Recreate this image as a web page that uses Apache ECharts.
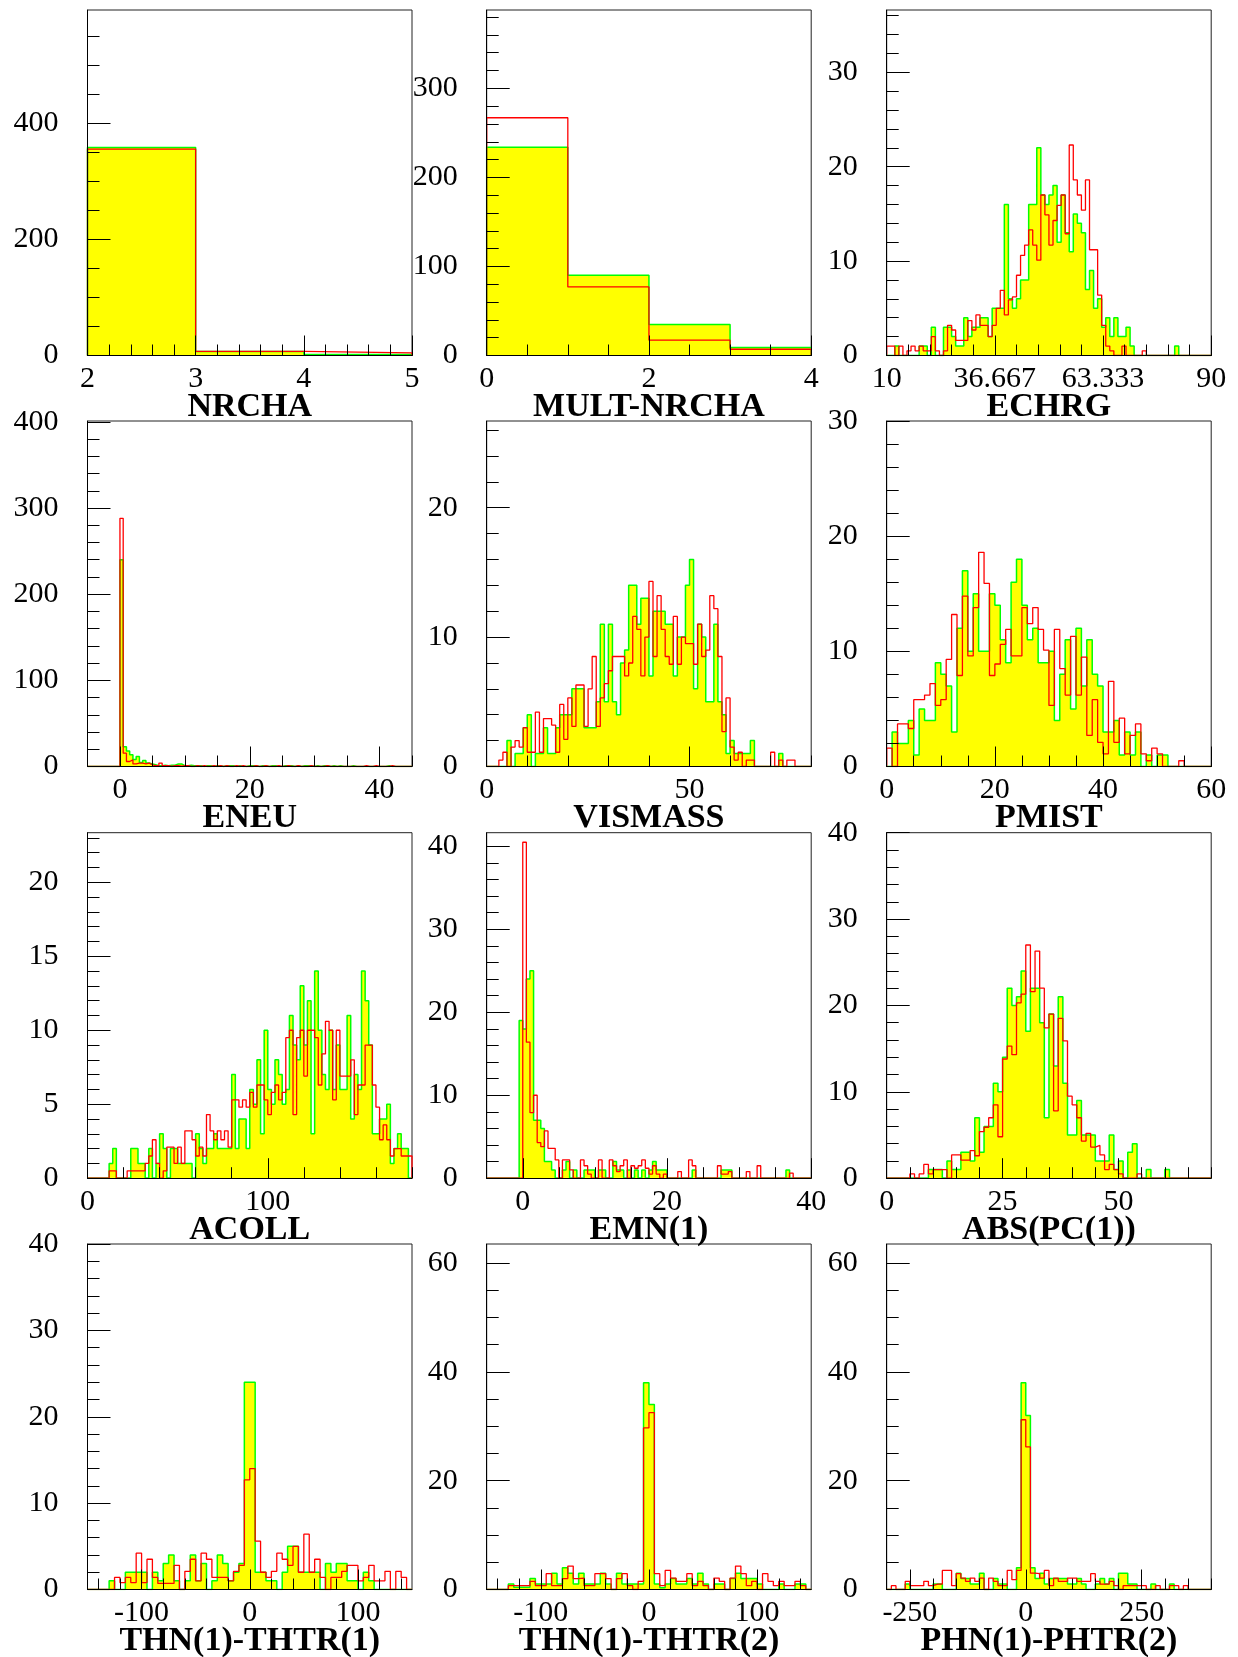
<!DOCTYPE html>
<html>
<head>
<meta charset="utf-8">
<script src="https://cdn.jsdelivr.net/npm/echarts@6/dist/echarts.min.js"></script>
<style>
html,body{margin:0;padding:0;background:#fff;}
#chart{width:1238px;height:1657px;}
</style>
</head>
<body>
<div id="chart"></div>
<script>
// ---------------- DATA (bin contents) ----------------
const titles = ['NRCHA','MULT-NRCHA','ECHRG','ENEU','VISMASS','PMIST','ACOLL','EMN(1)','ABS(PC(1))','THN(1)-THTR(1)','THN(1)-THTR(2)','PHN(1)-PHTR(2)'];

const nrchaFill = [359, 7, 1.7];
const nrchaLine = [356, 7, 4.6];

const multFill = [234, 90, 34.7, 9];
const multLine = [267, 77, 17.2, 7];

const echrgFill = [0,0,1,0,0,0,0,0,1,1, 0,3,0,0,3,3,2,1,1,4, 2,3,3,4,4,2,5,5,5,16, 6,5,6,8,8,16,16,22,17,16, 17,18,12,17,13,11,15,14,13,7, 9,5,6,3,4,2,4,2,2,3, 1,0,0,0,0,0,0,0,0,0, 0,1,0,0,0,0,0,0,0,0];
const echrgLine = [1,1,0,1,0,0.5,1,0.5,1,0.5, 0.5,2,0.5,0,0.5,3.2,2.7,1.6,1.6,1.6, 3.7,2.7,4.3,3.2,3.2,2,3.2,5,6.9,4.3, 5.9,6.2,8.5,10.6,11.7,13.3,11.7,10.1,17,14.9, 11.7,14.3,15.9,17,12.9,22.3,18.6,17,15.4,18.6, 11.2,11.2,6.4,3.2,1,0.5,0,0,1,0, 0,0,0,0.5,0,0,0,0,0,0, 0,0,0,0,0,0,0,0,0,0];

const eneuFill = [0,0,0,0,0,0,0,0,0,0, 240,23,18,13.5,8,11.6,4.6,7,4,3, 2,1,1,1.5,1,1.5,1.5,3,3,1, 1,1.5,1,1,1,0,1,1,0,1, 1,0,1,1,1,0,1,0,0,1, 1,1,0,1,1,0,1,1,0,0, 1,1,1,0,1,0,1,1,1,0, 1,0,1,1,0,1,0,1,0,0, 0,1,0,0,0,0,0,0,0,0, 0,0,1,0,0,0,0,0,0,0];
const eneuLine = [0,0,0,0,0,0,0,0,0,0, 288,15.5,5.8,7.7,3,3.9,3.9,3,3.9,2, 1,1,4,1,1,0,1,1,0.5,1, 1,0,0,1,0,1,0,0,1,0, 1,0,1,0,0,1,0,1,0,0, 0,1,0,0,1,0,0,0,1,0, 0,1,0,0,1,0,0,0,1,0, 0,0,0,1,0,0,0,0,0,0, 0,0,0,0,0,1,0,0,1,0, 0,0,0,1,0,0,0,0,0,0];

const vismassFill = [0,0,0,0,0,2,0,1,1,3, 4,0,1,1,3,1,1,3,4,4, 4,6,6,6,3,3,3,5,11,5, 11,5,4,8,9,14,14,11,13,13, 7,12,12,12,11,11,7,10,10,14, 16,6,11,10,5,5,11,5,4,1, 2,1,1,1,1,2,0,0,0,0, 0,0,1,0,0,0,0,0,0,0];
const vismassLine = [0,0,0,0.5,1.1,0,1.5,2,1.5,3, 1.1,1.1,4.2,1.1,3.7,3.7,3.2,1.1,4.8,2.1, 5.3,3.1,6.3,6.3,3.1,6,8.5,3.1,5.3,6.4, 7.4,8.5,8.5,8.5,7,8,11.6,10.6,7,10, 14.3,8.5,13.2,10.6,8.5,7.9,11.6,7.9,10,9.5, 9.5,7.9,11,8.5,9,13.2,12.2,8.5,2.7,5.3, 1.5,0.5,1.1,0,0.5,0.5,0,0,0,0, 1.1,0,0.5,0,0.5,0.5,0,0,0,0];

const pmistFill = [0,3,2,2,4,1,5,4,4,9, 8,7,3,12,17,10,15,10,10,15, 14,11,9,16,18,14,11,12,9,9, 10,4,8,11,5,12,7,11,8,7, 3,3,4,1,3,1,3,0,1,0, 1,1,0,0,0,0,0,0,0,0];
const pmistLine = [1.6,0,3.7,3.7,3.3,5.8,5.8,6.2,7.2,5.3, 5.8,9.3,13.2,7.9,14.8,9.6,13.8,18.6,15.9,7.9, 8.9,10.6,11.9,9.6,9.6,13.8,12.4,13.8,11.9,10.1, 5.3,11.9,8.5,6.2,11.3,6.2,9.5,2.7,5.8,2.1, 1.1,7.4,2.1,4.2,1.1,2.7,3.7,1.1,0.5,1.6, 1.1,0,0,0,0.5,0,0,0,0,0];

const acollFill = [0,0,0,0,0,0,1,2,0,0, 0,0,2,2,1,1,0,2,0,1, 3,2,0,2,2,1,1,1,1,0, 3,2,1,2,2,3,2,2,2,2, 7,2,4,4,2,6,5,8,3,10, 6,5,8,7,5,6,11,9,8,13, 9,12,3,14,10,7,6,10,6,9, 6,6,11,4,7,6,14,12,9,3, 3,4,4,5,1,2,3,2,2,0];
const acollLine = [0,0,0,0,0,0,0.5,0.5,0,0, 0,0.5,0.5,0.5,0.5,0.5,1,1.5,2.6,1, 0,0.5,2.1,2.1,1,2.1,1,3.2,3.2,2.6, 1.5,2.1,1.5,4.3,3.2,2.6,3.2,2.6,3.2,2.1, 5.3,5.3,4.8,5.3,4.8,5.8,4.8,6.3,6.3,5.3, 4.3,5.8,6.3,5.3,5.8,9.5,10,4.3,9.5,10, 6.9,10,10,9.5,6.3,8.4,10.6,10,5.3,10, 6.9,6.9,6.9,8,4.3,6.3,6.3,9,9,6.3, 4.8,2.6,3.6,2.6,1.5,2,2,1.5,1.5,1.5];

const emnFill = [0,0,0,0,0,0,0,0,0,19, 18,24,25,7,7,6,2,2,1,0, 0,1,2,0,1,0,0,1,1,1, 0,1,1,0,0,2,1,1,0,1, 0,1,0,1,0,1,2,1,1,1, 0,0,0,0,0,0,0,1,0,0, 0,0,0,0,0,1,1,1,0,0, 0,0,0,0,0,0,0,0,0,0, 0,0,0,1,0,0,0,0,0,0];
const emnLine = [0,0,0,0,0,0,0,0,0,0, 40.5,16.4,7.9,10,4.3,3.8,5.7,3.6,3.6,2.2, 0,2.2,2.2,1,0,0,2.2,1.5,0.5,0, 0,2.2,0,0,2.2,1.5,0.8,1.5,2.2,0, 1.5,1.2,1.5,2.2,1.2,0.5,1.5,0.5,0,0.5, 0,0,0,0.8,0,0,2.2,1.5,0,0, 0,0,0,0,1.5,0.5,0.5,0.8,0,0, 0,0,0.8,0,0,1.5,0,0,0,0, 0,0,0,0,0.6,0,0,0,0,0];

const abspcFill = [0,0,0,0,0,0,0,0,0,1, 1,1,0,2,1,1,3,3,2,7, 3,6,6,11,10,14,22,20,21,24, 17,22,22,18,7,19,13,21,11,5, 5,9,5,5,5,2,2,2,5,1, 2,0,3,4,0,0,1,0,0,0, 1,0,0,0,0,0,0,0,0,0];
const abspcLine = [0,0,0,0,0,0.5,0,0.5,1.6,0.5, 1,1,1,0,2.7,2.7,2.1,2.1,3.2,2.6, 5.4,5.9,7,8.5,4.8,13.8,15.3,14.3,20.3,21.3, 27,21.6,26.3,22,17.4,19,7.8,18.5,15.9,9.5, 8.5,7,4.3,5.2,3.6,3.8,2.7,1,1.6,1, 0.5,0,0,0,0.5,0,0,0,0,0, 0,0,0,0,0,0,0,0,0,0];

const thn1Fill = [0,0,0,0,1,0,0,2,2,2, 2,0,2,1,3,4,1,0,1,4, 1,3,0,1,4,3,1,2,3,24, 24,2,2,1,1,0,2,5,5,2, 2,2,2,0,3,2,3,3,1,1, 0,2,1,0,0,0,0,0,0,0];
const thn1Line = [0,0,0,0,0,1.4,0.8,1.4,0.8,4.2, 0.8,3.5,1.4,0.7,0.7,0.7,2.8,0,2.1,3.5, 1,4.2,3.5,1.4,1.4,1.4,1,2.1,2.8,12.7, 14,5.6,2,1.4,2.1,4.2,3.5,2.8,5,2, 6.4,2,3.5,1.4,0,1.4,1.4,2.1,2.8,2.8, 1,1.4,2.8,1,1,2.1,0,2.1,1.4,0];

const thn2Fill = [0,0,0,0,1,0.4,0.4,0.4,2,1, 1,1,3,1,4,3,1,3,1,1, 1,3,1,0,3,1,1,1,1,38, 34,1,0.3,1,2,1,1,2,1,3, 1,0,1,1,0,2,3,2,2,2, 1,0,0,0,1,0,0,1,1,0];
const thn2Line = [0,0,0,0,0.7,0.7,0.7,0.7,1.5,0.7, 0.7,2.9,0.7,0.7,2,4.3,2,2.1,0.7,0.7, 2.9,2.9,2,0,2,2.9,0.7,0,1.5,29.7, 32.5,2.9,0.7,3.5,2.1,1.5,1.5,2.9,0.7,1.5, 0.7,0,2.1,1.5,0,2.1,4.3,2.9,0.7,1.5, 0,2.9,1.5,0.7,1.5,0.7,0.7,1.5,0.7,0];

const phnFill = [0,0,0,0,1,0,0,0,0,0, 1,1,0,0,0,3,2,2,1,1, 3,0,0,2,1,1,0,0,4,38, 32,4,2,3,1,2,2,2,2,1, 1,2,1,0,0,1,2,1,2,0, 3,3,1,1,0,0,0,1,0,0, 0,1,0,0,0,0,0,0,0,0];
const phnLine = [0,0.7,0,0,1.5,0.7,0.7,0.7,1.5,0.7, 1,1,3.5,3.5,0.7,2.9,2.1,1.5,2.1,1.5, 2.1,0,2.1,1.5,0.7,0.7,3.5,1.8,3.5,31.2, 26.2,3,2.9,2.1,3.5,0.7,2.1,1.5,1.5,2.1, 2.1,1.5,1.5,1.5,2.9,1.5,1,1,1.5,0.7, 0,0.7,0.7,0.7,0.7,0.7,0,0,0.7,0, 0,0.7,0.7,0,0.7,0,0,0,0,0];

// tick labels
const xLabelValues = [[2,3,4,5],[0,2,4],[10,36.667,63.333,90],[0,20,40],[0,50],[0,20,40,60],[0,100],[0,20,40],[0,25,50],[-100,0,100],[-100,0,100],[-250,0,250]];
const yLabelValues = [[0,200,400],[0,100,200,300],[0,10,20,30],[0,100,200,300,400],[0,10,20],[0,10,20,30],[0,5,10,15,20],[0,10,20,30,40],[0,10,20,30,40],[0,10,20,30,40],[0,20,40,60],[0,20,40,60]];

// axis ranges and binning
const xMins = [2,0,10,-5,0,0,0,-5,0,-150,-150,-300];
const xMaxs = [5,4,90,45,80,60,180,40,70,150,150,400];
const binWidths = [1,1,1,0.5,1,1,2,0.5,1,5,5,10];
const yMaxs = [596,388,36.6,401,26.7,30,23.35,41.65,40,40,63.5,63.5];

const fills = [nrchaFill,multFill,echrgFill,eneuFill,vismassFill,pmistFill,acollFill,emnFill,abspcFill,thn1Fill,thn2Fill,phnFill];
const lines = [nrchaLine,multLine,echrgLine,eneuLine,vismassLine,pmistLine,acollLine,emnLine,abspcLine,thn1Line,thn2Line,phnLine];

// tick spacing
const xMinorStarts = [2,0,10,-5,0,0,0,-5,0,-140,-140,-300];
const xMinorSteps = [0.2,0.5,80/15,5,10,5,20,5,5,20,20,50];
const xMajorTicks = [[2,3,4,5],[0,2,4],[10,110/3,190/3,90],[0,20,40],[0,50],[0,20,40,60],[0,100],[0,20,40],[0,25,50],[-100,0,100],[-100,0,100],[-250,0,250]];
const yMinorSteps = [50,20,2,20,2,2,1,2,2,2,5,5];

// ---------------- BUILD ----------------
const colLeft = [87.5, 486.7, 886.7];
const rowTop = [10, 421, 832.7, 1244];
const W = 324.5, H = 345.5;
const SERIF = 'Liberation Serif';

function seq(start, step, max) {
  const out = [];
  for (let i = 0; ; i++) {
    const v = +(start + i * step).toFixed(6);
    if (v > max + 1e-9) break;
    out.push(v);
  }
  return out;
}
function stepData(counts, x0, w) {
  const pts = [[x0, 0]];
  counts.forEach((c, i) => pts.push([+(x0 + i * w).toFixed(6), c]));
  const xe = +(x0 + counts.length * w).toFixed(6);
  pts.push([xe, counts[counts.length - 1]]);
  pts.push([xe, 0]);
  return pts;
}

const grid = [], xAxis = [], yAxis = [], series = [];
for (let k = 0; k < 12; k++) {
  const r = Math.floor(k / 3), c = k % 3;
  grid.push({left: colLeft[c], top: rowTop[r], width: W, height: H, show: true,
    containLabel: false, outerBoundsMode: 'none',
    borderColor: '#222', borderWidth: 1, backgroundColor: 'transparent'});
  const xmin = xMins[k], xmax = xMaxs[k], ymax = yMaxs[k];
  // major x axis with labels and name
  xAxis.push({type: 'value', gridIndex: k, min: xmin, max: xmax, position: 'bottom', z: 5,
    axisLine: {onZero: false, lineStyle: {color: '#000', width: 1}},
    axisTick: {inside: true, length: 20, customValues: xMajorTicks[k], lineStyle: {color: '#000', width: 1}},
    axisLabel: {customValues: xLabelValues[k], margin: 9, color: '#000', fontFamily: SERIF, fontSize: 30,
      formatter: v => String(v)},
    splitLine: {show: false},
    name: titles[k], nameLocation: 'middle', nameGap: 35, nameMoveOverlap: false,
    nameTextStyle: {fontFamily: SERIF, fontWeight: 'bold', fontSize: 34, color: '#000'}});
  // minor x axis
  xAxis.push({type: 'value', gridIndex: k, min: xmin, max: xmax, position: 'bottom', z: 5,
    axisLine: {show: false, onZero: false},
    axisTick: {inside: true, length: 11, customValues: seq(xMinorStarts[k], xMinorSteps[k], xmax), lineStyle: {color: '#000', width: 1}},
    axisLabel: {show: false}, splitLine: {show: false}});
  // major y axis
  yAxis.push({type: 'value', gridIndex: k, min: 0, max: ymax, position: 'left', z: 5,
    axisLine: {onZero: false, lineStyle: {color: '#000', width: 1}},
    axisTick: {inside: true, length: 23, customValues: yLabelValues[k], lineStyle: {color: '#000', width: 1}},
    axisLabel: {customValues: yLabelValues[k], margin: 29, color: '#000', fontFamily: SERIF, fontSize: 30,
      formatter: v => String(v)},
    splitLine: {show: false}});
  // minor y axis
  yAxis.push({type: 'value', gridIndex: k, min: 0, max: ymax, position: 'left', z: 5,
    axisLine: {show: false, onZero: false},
    axisTick: {inside: true, length: 12, customValues: seq(0, yMinorSteps[k], ymax), lineStyle: {color: '#000', width: 1}},
    axisLabel: {show: false}, splitLine: {show: false}});

  series.push({type: 'line', xAxisIndex: 2 * k, yAxisIndex: 2 * k, step: 'end',
    data: stepData(fills[k], xmin, binWidths[k]), showSymbol: false, symbol: 'none',
    lineStyle: {color: '#00ff00', width: 1.5}, areaStyle: {color: '#ffff00', opacity: 1},
    z: 2, silent: true});
  series.push({type: 'line', xAxisIndex: 2 * k, yAxisIndex: 2 * k, step: 'end',
    data: stepData(lines[k], xmin, binWidths[k]), showSymbol: false, symbol: 'none',
    lineStyle: {color: '#ff0000', width: 1.3},
    z: 3, silent: true});
}

const chart = echarts.init(document.getElementById('chart'), null, {renderer: 'canvas'});
chart.setOption({animation: false, backgroundColor: '#fff', grid, xAxis, yAxis, series});
</script>
</body>
</html>
